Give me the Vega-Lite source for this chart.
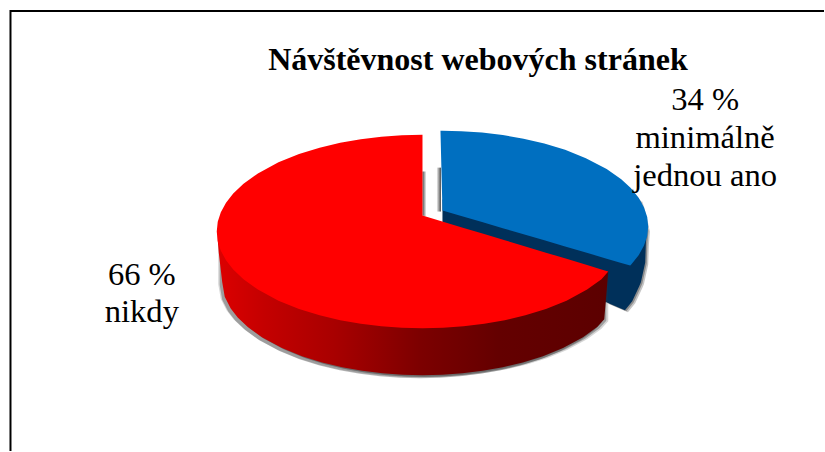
{
"$schema":"https://vega.github.io/schema/vega-lite/v6.json",
"width":825,"height":452,"padding":0,
"autosize":{"type":"fit","contains":"padding"},
"background":"white",
"config":{"view":{"stroke":null}},
"datasets":{
"wall_nikdy":[
{"x":218,"y":232,"y2":241},{"x":219,"y":232,"y2":253},{"x":221,"y":232,"y2":270},{"x":222.5,"y":232,"y2":283},
{"x":225,"y":232,"y2":297.4},{"x":231,"y":232,"y2":309.2},{"x":238,"y":232,"y2":318.2},{"x":248.1,"y":232,"y2":327.8},
{"x":262.2,"y":232,"y2":338},{"x":282.3,"y":232,"y2":348.8},{"x":302.4,"y":232,"y2":357},{"x":322.5,"y":232,"y2":363.3},
{"x":342.6,"y":232,"y2":368.1},{"x":362.7,"y":232,"y2":371.6},{"x":382.8,"y":232,"y2":374.1},{"x":402.9,"y":232,"y2":375.5},
{"x":423,"y":272,"y2":376},{"x":443.1,"y":272,"y2":375.5},{"x":463.2,"y":272,"y2":374.1},{"x":483.3,"y":272,"y2":371.6},
{"x":503.4,"y":272,"y2":368.1},{"x":523.5,"y":272,"y2":363.3},{"x":543.6,"y":272,"y2":357},{"x":563.7,"y":272,"y2":348.8},
{"x":583.8,"y":272,"y2":338},{"x":597.9,"y":272,"y2":327.8},{"x":605,"y":272,"y2":320},{"x":609,"y":272,"y2":272}
],
"face_nikdy":[
{"x":217,"y":232,"y2":232},{"x":218,"y":222.3,"y2":241.7},{"x":221.1,"y":212.7,"y2":251.3},{"x":226.3,"y":203.2,"y2":260.8},
{"x":233.5,"y":194,"y2":270},{"x":243.8,"y":184.2,"y2":279.8},{"x":258.2,"y":173.8,"y2":290.2},{"x":278.8,"y":162.7,"y2":301.3},
{"x":299.4,"y":154.4,"y2":309.6},{"x":320,"y":148,"y2":316},{"x":340.6,"y":143,"y2":321},{"x":361.2,"y":139.5,"y2":324.5},
{"x":381.8,"y":137,"y2":327},{"x":402.4,"y":135.5,"y2":328.5},{"x":423,"y":135,"y2":329},
{"x":423.01,"y":216,"y2":329},{"x":443.6,"y":222.2,"y2":328.5},{"x":464.2,"y":228.4,"y2":327},{"x":484.8,"y":234.6,"y2":324.5},
{"x":505.4,"y":240.8,"y2":321},{"x":526,"y":247,"y2":316},{"x":546.6,"y":253.2,"y2":309.6},{"x":567.2,"y":259.4,"y2":301.3},
{"x":587.8,"y":265.6,"y2":290.2},{"x":602.2,"y":270,"y2":279.8},{"x":609,"y":272,"y2":272}
],
"wall_ano":[
{"x":443,"y":200,"y2":300},{"x":607,"y":200,"y2":303},{"x":625.7,"y":200,"y2":311},{"x":633,"y":200,"y2":302},
{"x":640,"y":200,"y2":287},{"x":641.7,"y":205,"y2":283},{"x":646,"y":222,"y2":263},{"x":646.7,"y":226,"y2":243},{"x":647.7,"y":230,"y2":230}
],
"face_ano":[
{"x":441,"y":131,"y2":131},{"x":443,"y":131,"y2":211},{"x":461.8,"y":131.5,"y2":216.5},{"x":482.6,"y":132.9,"y2":222.6},
{"x":503.4,"y":135.4,"y2":228.7},{"x":524.2,"y":139,"y2":234.8},{"x":545,"y":143.9,"y2":240.9},{"x":565.8,"y":150.2,"y2":247},
{"x":586.6,"y":158.5,"y2":253.1},{"x":607.4,"y":169.4,"y2":259.2},{"x":622,"y":179.7,"y2":263.5},{"x":631,"y":188,"y2":266},
{"x":632.4,"y":189.4,"y2":264.6},{"x":639.6,"y":198.5,"y2":255.5},{"x":644.8,"y":207.9,"y2":246.1},{"x":648,"y":217.4,"y2":236.6},{"x":649,"y":227,"y2":227}
],
"gap_nikdy":[{"x":423,"y":172,"y2":216},{"x":427,"y":172,"y2":217}],
"gap_ano":[{"x":437,"y":168,"y2":212},{"x":441.5,"y":168,"y2":212}],
"texts":[
{"x":478.5,"y":70,"text":"Návštěvnost webových stránek","kind":"title"},
{"x":706,"y":110,"text":"34 %","kind":"label"},
{"x":706,"y":148,"text":"minimálně","kind":"label"},
{"x":706,"y":186,"text":"jednou ano","kind":"label"},
{"x":142,"y":286,"text":"66 %","kind":"label"},
{"x":142,"y":323,"text":"nikdy","kind":"label"}
]
},
"encoding":{
"x":{"field":"x","type":"quantitative","scale":{"domain":[0,825],"nice":false,"zero":false},"axis":null},
"y":{"field":"y","type":"quantitative","scale":{"domain":[452,0],"nice":false,"zero":false},"axis":null}
},
"layer":[
{"data":{"values":[{"x":10.5,"x2":825,"y":11}]},"mark":{"type":"rule","stroke":"#000","strokeWidth":2},"encoding":{"x2":{"field":"x2"}}},
{"data":{"values":[{"x":10.5,"y":10,"y2":452}]},"mark":{"type":"rule","stroke":"#000","strokeWidth":2},"encoding":{"y2":{"field":"y2"}}},

{"data":{"name":"gap_nikdy"},"mark":{"type":"area","color":{"gradient":"linear","x1":0,"x2":1,"y1":0,"y2":0,"stops":[{"offset":0,"color":"#505050"},{"offset":1,"color":"#ffffff"}]}},"encoding":{"y2":{"field":"y2"}}},
{"data":{"name":"gap_ano"},"mark":{"type":"area","color":{"gradient":"linear","x1":0,"x2":1,"y1":0,"y2":0,"stops":[{"offset":0,"color":"#ffffff"},{"offset":1,"color":"#484848"}]}},"encoding":{"y2":{"field":"y2"}}},

{"data":{"name":"wall_ano"},"transform":[{"filter":"datum.x>=607"}],"mark":{"type":"area","color":"#333","opacity":0.28,"xOffset":3,"yOffset":2,"y2Offset":2},"encoding":{"y2":{"field":"y2"}}},
{"data":{"name":"wall_ano"},"transform":[{"filter":"datum.x>=607"}],"mark":{"type":"area","color":"#333","opacity":0.4,"xOffset":1.5,"yOffset":1,"y2Offset":1},"encoding":{"y2":{"field":"y2"}}},
{"data":{"name":"wall_ano"},"mark":{"type":"area","color":"#00305a"},"encoding":{"y2":{"field":"y2"}}},
{"data":{"name":"face_ano"},"mark":{"type":"area","color":"#006fc0"},"encoding":{"y2":{"field":"y2"}}},

{"data":{"name":"wall_nikdy"},"transform":[{"filter":"datum.x>=222 && datum.x<=605"}],"mark":{"type":"area","color":"#333","opacity":0.2,"xOffset":-4,"yOffset":2,"y2Offset":2},"encoding":{"y2":{"field":"y2"}}},
{"data":{"name":"wall_nikdy"},"transform":[{"filter":"datum.x>=222 && datum.x<=605"}],"mark":{"type":"area","color":"#333","opacity":0.2,"xOffset":4,"yOffset":2,"y2Offset":2},"encoding":{"y2":{"field":"y2"}}},
{"data":{"name":"wall_nikdy"},"transform":[{"filter":"datum.x>=222 && datum.x<=605"}],"mark":{"type":"area","color":"#333","opacity":0.35,"xOffset":-2.5,"yOffset":3,"y2Offset":3},"encoding":{"y2":{"field":"y2"}}},
{"data":{"name":"wall_nikdy"},"transform":[{"filter":"datum.x>=222 && datum.x<=605"}],"mark":{"type":"area","color":"#333","opacity":0.35,"xOffset":2,"yOffset":1.5,"y2Offset":1.5},"encoding":{"y2":{"field":"y2"}}},
{"data":{"name":"wall_nikdy"},"mark":{"type":"area","color":{"gradient":"linear","x1":0,"x2":1,"y1":0,"y2":0,"stops":[{"offset":0,"color":"#dc0000"},{"offset":0.12,"color":"#c40000"},{"offset":0.3,"color":"#a80000"},{"offset":0.52,"color":"#7c0000"},{"offset":0.72,"color":"#640000"},{"offset":1,"color":"#5c0000"}]}},"encoding":{"y2":{"field":"y2"}}},
{"data":{"name":"face_nikdy"},"mark":{"type":"area","color":"#ff0000"},"encoding":{"y2":{"field":"y2"}}},

{"data":{"name":"texts"},"transform":[{"filter":"datum.kind=='title'"}],"mark":{"type":"text","font":"Liberation Serif","fontSize":32,"fontWeight":"bold","align":"center","baseline":"alphabetic","color":"#000"},"encoding":{"text":{"field":"text"}}},
{"data":{"name":"texts"},"transform":[{"filter":"datum.kind=='label'"}],"mark":{"type":"text","font":"Liberation Serif","fontSize":32.6,"align":"center","baseline":"alphabetic","color":"#000"},"encoding":{"text":{"field":"text"}}}
]
}
